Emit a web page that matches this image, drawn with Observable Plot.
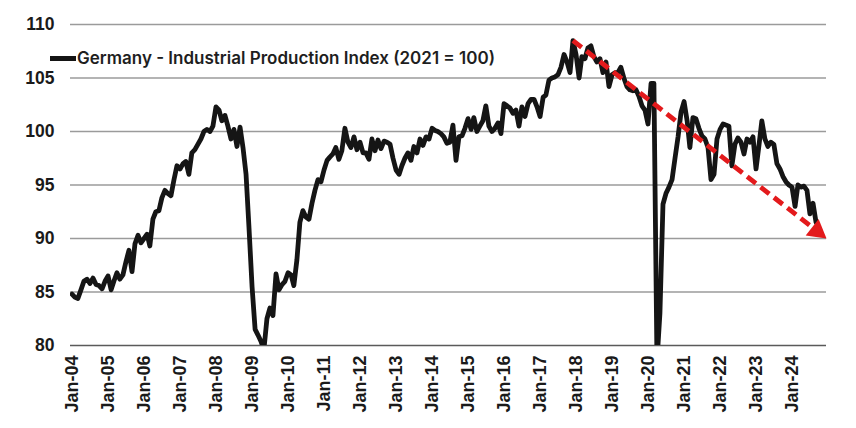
<!DOCTYPE html>
<html><head><meta charset="utf-8">
<script src="https://cdn.jsdelivr.net/npm/d3@7"></script>
<script src="https://cdn.jsdelivr.net/npm/@observablehq/plot@0.6"></script>
<style>
body{margin:0;background:#fff;}
#wrap{position:relative;width:856px;height:428px;}
#legend{position:absolute;left:50px;top:47px;display:flex;align-items:center;font-family:Inter,"Liberation Sans",sans-serif;font-weight:600;font-size:17px;color:#1e1e1e;white-space:nowrap;line-height:22px;}
#legend .sw{display:inline-block;width:26px;height:5px;background:#141414;margin-right:1px;}
#chart text{font-weight:700;}
</style></head><body>
<div id="wrap"><div id="chart"></div><div id="legend"><span class="sw"></span><span id="legtext"></span></div></div>
<script>
const seriesName = "Germany - Industrial Production Index (2021 = 100)";
const firstYear = 2004;
// monthly values
const v2004 = [84.8, 84.5, 84.4, 85.2, 86.0, 86.2, 85.8, 86.3, 85.7, 85.6, 85.3, 86.0];
const v2005 = [86.5, 85.2, 86.0, 86.8, 86.2, 86.6, 87.8, 88.9, 86.9, 89.5, 90.3, 89.6];
const v2006 = [90.0, 90.4, 89.3, 91.8, 92.5, 92.6, 93.8, 94.5, 94.2, 94.0, 95.5, 96.8];
const v2007 = [96.5, 97.0, 97.2, 96.0, 98.0, 98.3, 98.8, 99.3, 100.0, 100.2, 100.0, 100.5];
const v2008 = [102.3, 102.0, 101.0, 101.5, 100.5, 99.3, 100.2, 98.6, 100.4, 98.5, 96.0, 91.0];
const v2009 = [85.5, 81.5, 81.0, 80.4, 79.6, 82.5, 83.5, 82.8, 86.7, 85.2, 85.7, 86.0];
const v2010 = [86.8, 86.6, 85.6, 88.0, 91.5, 92.6, 92.0, 91.8, 93.3, 94.5, 95.5, 95.3];
const v2011 = [96.4, 97.3, 97.6, 97.9, 98.5, 97.4, 98.2, 100.3, 99.0, 98.5, 99.5, 98.3];
const v2012 = [99.0, 98.0, 98.0, 97.4, 99.3, 98.2, 99.2, 98.4, 99.1, 99.0, 98.8, 97.5];
const v2013 = [96.4, 96.0, 96.8, 97.5, 98.0, 97.3, 98.6, 98.0, 99.3, 98.7, 99.5, 99.3];
const v2014 = [100.3, 100.1, 100.0, 99.8, 99.5, 98.9, 99.0, 100.6, 97.3, 99.5, 99.6, 100.3];
const v2015 = [101.2, 100.2, 101.3, 100.0, 100.5, 101.0, 102.4, 100.5, 100.0, 100.3, 100.8, 99.8];
const v2016 = [102.6, 102.4, 102.2, 101.7, 102.0, 100.5, 102.3, 101.4, 102.6, 103.0, 103.0, 102.3];
const v2017 = [101.4, 103.2, 103.4, 104.8, 105.0, 105.1, 105.3, 106.0, 107.2, 106.5, 105.5, 108.5];
const v2018 = [107.2, 105.0, 107.0, 106.8, 107.8, 108.0, 107.0, 106.5, 106.8, 105.5, 106.5, 104.2];
const v2019 = [105.3, 105.5, 105.5, 106.0, 105.0, 104.2, 103.9, 103.8, 103.9, 103.3, 102.4, 102.0];
const v2020 = [100.7, 104.5, 104.5, 78.5, 83.0, 93.2, 94.2, 94.8, 95.5, 97.5, 99.5, 101.8];
const v2021 = [102.8, 101.0, 98.5, 101.3, 101.2, 100.3, 99.6, 99.3, 98.5, 95.5, 96.0, 99.3];
const v2022 = [100.2, 100.7, 100.6, 100.5, 96.8, 98.8, 99.4, 99.0, 97.9, 99.3, 99.0, 99.5];
const v2023 = [96.5, 98.8, 101.0, 99.3, 98.6, 99.0, 98.8, 97.0, 96.5, 95.8, 95.3, 95.0];
const v2024 = [94.8, 93.0, 95.0, 94.8, 94.9, 94.5, 92.3, 93.3, 91.5];

const yTicks = [80, 85, 90, 95, 100, 105, 110];
const tickLabels = ["Jan-04","Jan-05","Jan-06","Jan-07","Jan-08","Jan-09","Jan-10","Jan-11","Jan-12","Jan-13","Jan-14","Jan-15","Jan-16","Jan-17","Jan-18","Jan-19","Jan-20","Jan-21","Jan-22","Jan-23","Jan-24"];
// trend arrow: from the Dec-2017 peak to the right edge
const trendStart = {date: "2017-12-01", value: 108.5};
const trendEnd = {date: "2024-12-16", value: 90.0};
const xDomain = ["2003-12-17", "2024-12-16"];

document.getElementById("legtext").textContent = seriesName;

const values = [].concat(v2004,v2005,v2006,v2007,v2008,v2009,v2010,v2011,v2012,v2013,v2014,v2015,v2016,v2017,v2018,v2019,v2020,v2021,v2022,v2023,v2024);
const data = values.map((v, i) => ({date: new Date(Date.UTC(firstYear, i, 1)), value: v}));
const tickDates = tickLabels.map((_, i) => new Date(Date.UTC(firstYear + i, 0, 1)));
const labelOf = new Map(tickDates.map((d, i) => [+d, tickLabels[i]]));

const font = "'Liberation Sans', Arial, sans-serif";
function make(extra) {
  return Plot.plot({
    width: 856, height: 428,
    marginLeft: 70, marginRight: 30, marginTop: 24, marginBottom: 83,
    style: {fontFamily: font, background: "#fff", color: "#1a1a1a"},
    x: {type: "utc", domain: xDomain.map(d => new Date(d))},
    y: {domain: [80, 110]},
    marks: [
      Plot.gridY(yTicks.filter(t => t > 80), {stroke: "#9b9b9b", strokeOpacity: 1, strokeWidth: 1.3}),
      Plot.ruleY([80], {stroke: "#5a5a5a", strokeWidth: 1.6}),
      Plot.axisY(yTicks, {tickSize: 0, tickPadding: 16, fontSize: 17.5, fontWeight: 700, label: null}),
      Plot.axisX(tickDates, {tickSize: 0, tickPadding: 10, tickRotate: -90, fontSize: 18, fontWeight: 700, tickFormat: d => labelOf.get(+d), label: null}),
      Plot.line(data, {x: "date", y: "value", stroke: "#151515", strokeWidth: 4.8, strokeLinejoin: "round", clip: true}),
      ...extra
    ]
  });
}

let sx, sy;
try {
  const probe = make([]);
  sx = probe.scale("x"); sy = probe.scale("y");
} catch (e) {}
const px = d => sx.apply(new Date(d));
const py = v => sy.apply(v);
const x0 = px(trendStart.date), y0 = py(trendStart.value);
const x1 = px(trendEnd.date), y1 = py(trendEnd.value);
const len = Math.hypot(x1 - x0, y1 - y0);
const ux = (x1 - x0) / len, uy = (y1 - y0) / len;
const angle = Math.atan2(uy, ux) * 180 / Math.PI;
const headR = 7.8;
const tipToCenter = 2 * Math.sqrt(Math.PI * headR * headR / (Math.sqrt(3) * 3));
const shaftEnd = {date: sx.invert(x1 - ux * 14), value: sy.invert(y1 - uy * 14)};
const headCenter = {date: sx.invert(x1 - ux * tipToCenter), value: sy.invert(y1 - uy * tipToCenter)};

const chart = make([
  Plot.link([{a: new Date(trendStart.date), b: trendStart.value, c: shaftEnd.date, d: shaftEnd.value}],
    {x1: "a", y1: "b", x2: "c", y2: "d", stroke: "#e31a1c", strokeWidth: 4.8, strokeDasharray: "11,6"}),
  Plot.dot([headCenter], {x: "date", y: "value", symbol: "triangle", r: headR, fill: "#e31a1c", stroke: "none", rotate: angle + 90})
]);
document.getElementById("chart").appendChild(chart);
</script>
</body></html>
